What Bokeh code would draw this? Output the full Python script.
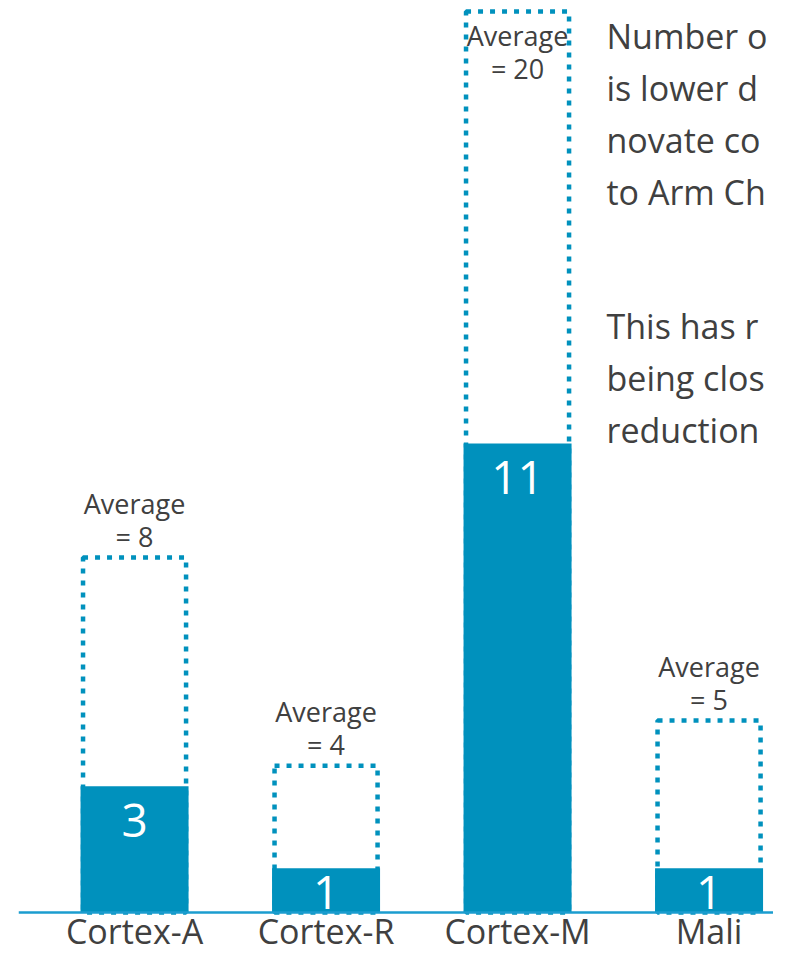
from bokeh.plotting import figure
from bokeh.models import Range1d, Span, ColumnDataSource
from bokeh.core.properties import value
from bokeh.embed import file_html
from bokeh.resources import INLINE

# ---- data -------------------------------------------------------------
categories = ["Cortex-A", "Cortex-R", "Cortex-M", "Mali"]
counts = [3, 1, 11, 1]
averages = [8, 4, 20, 5]
# bar heights as drawn on the slide (read from the picture; not to scale)
count_heights = [2.80, 0.98, 10.41, 0.98]
average_heights = [7.88, 3.26, 20.0, 4.26]
note_para_1 = ["Number o", "is lower d", "novate co", "to Arm Ch"]
note_para_2 = ["This has r", "being clos", "reduction"]

# ---- style ------------------------------------------------------------
BLUE = "#0091bd"
AXIS_BLUE = "#1b9dcf"
TEXT = "#404040"
FONT = value("Open Sans")
K = 0.37  # baseline correction (fraction of font size)

xs = list(range(len(categories)))
PX = 45.05    # pixels per y unit
AXIS_Y = 912  # pixel row of the baseline
H = 953

p = figure(width=773, height=H,
           x_range=Range1d(-0.606, -0.606 + 755 / 191.5),
           y_range=Range1d(-(H - AXIS_Y) / PX, AXIS_Y / PX),
           x_axis_location=None, y_axis_location=None,
           output_backend="svg", toolbar_location=None,
           min_border_left=18, min_border_right=0,
           min_border_top=0, min_border_bottom=0)
p.grid.visible = False
p.outline_line_color = None
p.background_fill_color = "white"
p.border_fill_color = "white"

# dotted "average" boxes
p.vbar(x=xs, width=0.538, bottom=0, top=average_heights,
       fill_color=None, line_color=BLUE, line_width=4.5, line_dash="5 7")
# solid count bars
p.vbar(x=xs, width=0.564, bottom=0, top=count_heights,
       fill_color=BLUE, line_color=None)

# baseline
p.add_layout(Span(location=0, dimension="width", line_color=AXIS_BLUE, line_width=2.5))

def off(px, fs):
    return px - K * fs

# count labels inside bars (near the top, kept above the baseline)
src_cnt = ColumnDataSource(dict(
    x=xs, y=count_heights, t=[str(c) for c in counts],
    o=[off(min(51, h * PX - 3), 46) for h in count_heights],
))
p.text(x="x", y="y", text="t", y_offset="o", source=src_cnt,
       text_align="center", text_baseline="alphabetic",
       text_color="white", text_font=FONT, text_font_size="46px")

# average labels: above the box, or inside it when the box reaches the top
ymax = p.y_range.end
inside = [h > 0.9 * ymax for h in average_heights]
src_avg = ColumnDataSource(dict(
    x=xs, y=average_heights,
    l1=["Average"] * len(xs),
    l2=["= %d" % a for a in averages],
    o1=[off(34 if i else -44, 27) for i in inside],
    o2=[off(67 if i else -11, 27) for i in inside],
))
for col_t, col_o in (("l1", "o1"), ("l2", "o2")):
    p.text(x="x", y="y", text=col_t, y_offset=col_o, source=src_avg,
           text_align="center", text_baseline="alphabetic",
           text_color=TEXT, text_font=FONT, text_font_size="27px")

# category labels
p.text(x=xs, y=[0] * len(xs), text=categories, y_offset=off(31, 34),
       text_align="center", text_baseline="alphabetic",
       text_color=TEXT, text_font=FONT, text_font_size="34px")

# side note (the visible part of the slide's text box)
note_x = -0.606 + (606 - 18) / 191.5
for lines, y_px in ((note_para_1, 48), (note_para_2, 338)):
    y0 = (AXIS_Y - y_px) / PX
    src = ColumnDataSource(dict(x=[note_x] * len(lines), y=[y0] * len(lines),
                                t=lines,
                                o=[off(52 * i, 34) for i in range(len(lines))]))
    p.text(x="x", y="y", text="t", y_offset="o", source=src,
           text_align="left", text_baseline="alphabetic",
           text_color=TEXT, text_font=FONT, text_font_size="34px")

open("out.html", "w").write(file_html(p, INLINE))
